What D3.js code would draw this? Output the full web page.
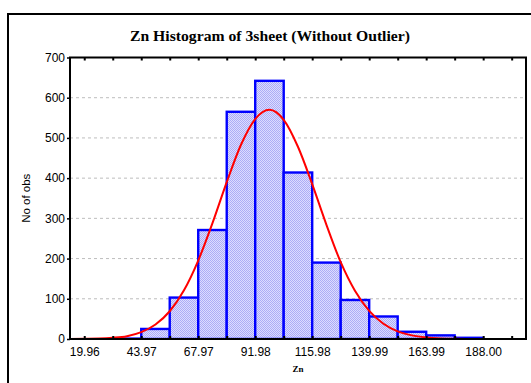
<!DOCTYPE html>
<html><head><meta charset="utf-8">
<script src="https://cdn.jsdelivr.net/npm/d3@7"></script>
<style>body{margin:0;background:#fff}svg{display:block}</style>
</head><body>
<script>
// ---- data ----
const title = "Zn Histogram of 3sheet (Without Outlier)";
const xTitle = "Zn";
const yTitle = "No of obs";
const binEdges = [19.96, 31.96, 43.97, 55.97, 67.97, 79.98, 91.98, 103.98, 115.98, 127.99, 139.99, 151.99, 163.99, 175.99, 188.00];
const binCounts = [0, 1, 25, 103, 271, 565, 642, 414, 190, 97, 56, 18, 9, 3];
const xTickValues = [19.96, 31.96, 43.97, 55.97, 67.97, 79.98, 91.98, 103.98, 115.98, 127.99, 139.99, 151.99, 163.99, 175.99, 188.00, 200.00];
const xTickLabels = ["19.96", "", "43.97", "", "67.97", "", "91.98", "", "115.98", "", "139.99", "", "163.99", "", "188.00", ""];
const yTickValues = [0, 100, 200, 300, 400, 500, 600, 700];
// fitted normal curve
const curveX = [13.96, 19.96, 25.96, 31.96, 37.96, 43.97, 49.97, 55.97, 61.97, 67.97, 73.97, 79.98, 85.98, 91.98, 97.98, 103.98, 109.98, 115.98, 121.98, 127.99, 133.99, 139.99, 145.99, 151.99, 157.99, 163.99, 169.99, 175.99, 181.99, 188.00, 194.00, 200.00, 206.04];
const curveY = [0.1, 0.4, 1, 3, 7, 17, 36, 69, 121, 195, 288, 390, 483, 547, 570, 545, 478, 385, 284, 191, 120, 70, 38, 19, 9, 4, 1.5, 0.5, 0.2, 0, 0, 0, 0];

const W = 531, H = 383;
const L = 70, R = 526, T = 57.5, B = 339;

const svg = d3.select("body").append("svg").attr("width", W).attr("height", H);

const defs = svg.append("defs");
const pat = defs.append("pattern").attr("id", "hatch").attr("width", 2).attr("height", 2)
  .attr("patternUnits", "userSpaceOnUse");
pat.append("rect").attr("width", 2).attr("height", 2).attr("fill", "#dcdcff");
pat.append("rect").attr("width", 1).attr("height", 1).attr("fill", "#acacf6");
pat.append("rect").attr("x", 1).attr("y", 1).attr("width", 1).attr("height", 1).attr("fill", "#acacf6");
defs.append("clipPath").attr("id", "clip").append("rect")
  .attr("x", L).attr("y", T).attr("width", R - L).attr("height", B - T);

// outer frame
svg.append("rect").attr("x", 8).attr("y", 14).attr("width", 530).attr("height", 380)
  .attr("fill", "none").attr("stroke", "#000").attr("stroke-width", 2);

const x = d3.scaleLinear().domain([13.96, 206.04]).range([L, R]);
const y = d3.scaleLinear().domain([0, 700]).range([B, T]);

// grid
svg.append("g").selectAll("line").data(yTickValues.filter(v => v > 0 && v < 700)).join("line")
  .attr("x1", L).attr("x2", R).attr("y1", d => y(d)).attr("y2", d => y(d))
  .attr("stroke", "#bdbdbd").attr("stroke-width", 1).attr("stroke-dasharray", "3,3");

// bars
const bars = binCounts.map((c, i) => ({x0: binEdges[i], x1: binEdges[i + 1], c}));
svg.append("g").attr("clip-path", "url(#clip)").selectAll("rect").data(bars.filter(d => d.c > 0)).join("rect")
  .attr("x", d => x(d.x0)).attr("width", d => x(d.x1) - x(d.x0))
  .attr("y", d => y(d.c)).attr("height", d => B - y(d.c))
  .attr("fill", "url(#hatch)").attr("stroke", "#0000ff").attr("stroke-width", 2.4);

// curve
const line = d3.line().x((d, i) => x(curveX[i])).y(d => y(d)).curve(d3.curveMonotoneX);
svg.append("path").attr("clip-path", "url(#clip)").datum(curveY).attr("d", line)
  .attr("fill", "none").attr("stroke", "#ff0000").attr("stroke-width", 2);

// axes
const xb = d3.axisBottom(x).tickValues(xTickValues).tickSize(-3).tickPadding(8)
  .tickFormat((d, i) => xTickLabels[i]);
const gx = svg.append("g").attr("transform", `translate(0,${B})`).call(xb);
gx.select(".domain").remove();
gx.selectAll("line").attr("stroke", "#000").attr("stroke-width", 2);
gx.selectAll("text").attr("font-family", "Liberation Sans, Arial, sans-serif").attr("font-size", 12).attr("fill", "#000");

const xt = d3.axisTop(x).tickValues(xTickValues).tickSize(-3).tickFormat("");
const gxt = svg.append("g").attr("transform", `translate(0,${T})`).call(xt);
gxt.select(".domain").remove();
gxt.selectAll("line").attr("stroke", "#000").attr("stroke-width", 2);

const yl = d3.axisLeft(y).tickValues(yTickValues).tickSize(3).tickPadding(2).tickFormat(d3.format("d"));
const gy = svg.append("g").attr("transform", `translate(${L},0)`).call(yl);
gy.select(".domain").remove();
gy.selectAll("line").attr("stroke", "#000").attr("stroke-width", 1.5);
gy.selectAll("text").attr("font-family", "Liberation Sans, Arial, sans-serif").attr("font-size", 12).attr("fill", "#000");

// plot frame
svg.append("rect").attr("x", L).attr("y", T).attr("width", R - L).attr("height", B - T)
  .attr("fill", "none").attr("stroke", "#000").attr("stroke-width", 2);

// titles
svg.append("text").attr("x", 270).attr("y", 41).attr("text-anchor", "middle")
  .attr("font-family", "Liberation Serif, Times New Roman, serif").attr("font-weight", "bold").attr("font-size", 14.5)
  .attr("textLength", 280).attr("lengthAdjust", "spacingAndGlyphs")
  .text(title);
svg.append("text").attr("x", (L + R) / 2).attr("y", 372).attr("text-anchor", "middle")
  .attr("font-family", "Liberation Serif, Times New Roman, serif").attr("font-weight", "bold").attr("font-size", 9)
  .text(xTitle);
svg.append("text").attr("transform", `translate(30,${(T + B) / 2}) rotate(-90)`).attr("text-anchor", "middle")
  .attr("font-family", "Liberation Sans, Arial, sans-serif").attr("font-size", 11.5)
  .text(yTitle);
</script>
</body></html>
